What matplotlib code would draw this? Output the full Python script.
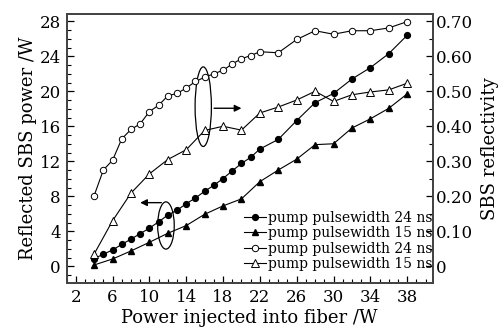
import matplotlib
matplotlib.use("Agg")
import matplotlib.pyplot as plt
from matplotlib.patches import Ellipse
from matplotlib.ticker import MultipleLocator, FixedLocator
import numpy as np

plt.rcParams.update({
    'font.family': 'DejaVu Serif',
    'xtick.direction': 'in',
    'ytick.direction': 'in',
})

# reflected SBS power (W), 24 ns pump
p24_x = [4, 5, 6, 7, 8, 9, 10, 11, 12, 13, 14, 15, 16, 17, 18, 19, 20, 21, 22,
         24, 26, 28, 30, 32, 34, 36, 38]
p24_y = [0.87, 1.38, 1.86, 2.5, 3.1, 3.73, 4.35, 5.08, 5.85, 6.4, 7.15, 7.8,
         8.57, 9.25, 10.03, 10.9, 11.75, 12.45, 13.4, 14.5, 16.65, 18.7,
         19.75, 21.4, 22.7, 24.3, 26.4]

# reflected SBS power (W), 15 ns pump
p15_x = [4, 6, 8, 10, 12, 14, 16, 18, 20, 22, 24, 26, 28, 30, 32, 34, 36, 38]
p15_y = [0.15, 0.83, 1.75, 2.74, 3.77, 4.65, 5.94, 6.9, 7.7, 9.67, 11.0,
         12.24, 13.9, 14.0, 15.8, 16.85, 18.05, 19.7]

# SBS reflectivity, 24 ns pump
r24_x = p24_x
r24_y = [0.202, 0.275, 0.303, 0.364, 0.391, 0.407, 0.442, 0.46, 0.487, 0.494,
         0.509, 0.528, 0.54, 0.55, 0.56, 0.578, 0.593, 0.602, 0.613, 0.61,
         0.648, 0.673, 0.663, 0.673, 0.673, 0.681, 0.699]

# SBS reflectivity, 15 ns pump
r15_x = p15_x
r15_y = [0.035, 0.13, 0.209, 0.264, 0.305, 0.333, 0.388, 0.4, 0.389, 0.438,
         0.455, 0.475, 0.5, 0.471, 0.49, 0.498, 0.504, 0.523]

labels = ['pump pulsewidth 24 ns', 'pump pulsewidth 15 ns',
          'pump pulsewidth 24 ns', 'pump pulsewidth 15 ns']

fig = plt.figure(figsize=(5.04, 3.34), dpi=100)
ax = fig.add_axes([0.132, 0.152, 0.727, 0.806])
ax2 = ax.twinx()

lw = 0.8
h1, = ax.plot(p24_x, p24_y, '-o', color='k', lw=lw, ms=4.2, mfc='k', mec='k')
h2, = ax.plot(p15_x, p15_y, '-^', color='k', lw=lw, ms=4.8, mfc='k', mec='k')
h3, = ax2.plot(r24_x, r24_y, '-o', color='k', lw=lw, ms=4.6, mfc='white',
               mec='k', mew=0.7)
h4, = ax2.plot(r15_x, r15_y, '-^', color='k', lw=lw, ms=5.2, mfc='white',
               mec='k', mew=0.7)

ax.set_xlim(1, 40.8)
ax.set_ylim(-1.94, 28.83)
ax2.set_ylim(-1.94 / 40, 28.83 / 40)

ax.xaxis.set_major_locator(FixedLocator(np.arange(2, 39, 4)))
ax.xaxis.set_minor_locator(MultipleLocator(1))
ax.yaxis.set_major_locator(MultipleLocator(4))
ax.yaxis.set_minor_locator(MultipleLocator(1))
ax2.yaxis.set_major_locator(MultipleLocator(0.1))
ax2.yaxis.set_minor_locator(MultipleLocator(0.05))
ax2.set_yticks(np.arange(0, 0.71, 0.1))
ax2.set_yticklabels(['0'] + ['%.2f' % v for v in np.arange(0.1, 0.71, 0.1)])

ax.tick_params(which='both', top=False, right=False, labelsize=12, pad=4)
ax.tick_params(which='major', length=5, width=0.9)
ax.tick_params(which='minor', length=3, width=0.8)
ax2.tick_params(which='both', labelsize=12, pad=2)
ax2.tick_params(which='major', length=5, width=0.9)
ax2.tick_params(which='minor', length=3, width=0.8)

for a in (ax, ax2):
    for s in a.spines.values():
        s.set_linewidth(1.3)
        s.set_color('#444444')

ax.set_xlabel('Power injected into fiber /W', fontsize=13, labelpad=2)
ax.set_ylabel('Reflected SBS power /W', fontsize=13, labelpad=2)
ax2.set_ylabel('SBS reflectivity', fontsize=13, labelpad=6)

# grouping ellipses with arrows
ax.add_patch(Ellipse((11.8, 4.66), 1.8, 5.4, fill=False, lw=0.9, ec='k',
                     zorder=5))
ax.annotate('', xy=(8.7, 7.27), xytext=(11.6, 7.27),
            arrowprops=dict(arrowstyle='-|>', color='k', lw=1.0,
                            mutation_scale=10))
ax.add_patch(Ellipse((15.85, 18.24), 1.77, 9.1, fill=False, lw=0.9, ec='k',
                     zorder=5))
ax.annotate('', xy=(20.3, 18.06), xytext=(16.73, 18.06),
            arrowprops=dict(arrowstyle='-|>', color='k', lw=1.0,
                            mutation_scale=10))

leg = ax.legend([h1, h2, h3, h4], labels, loc='lower right',
                bbox_to_anchor=(1.0, 0.045), frameon=False, fontsize=10,
                handlelength=1.6, handletextpad=0.15, labelspacing=0.1,
                borderpad=0, borderaxespad=0, numpoints=1)
leg.set_zorder(10)

fig.savefig('out.png', dpi=100)
